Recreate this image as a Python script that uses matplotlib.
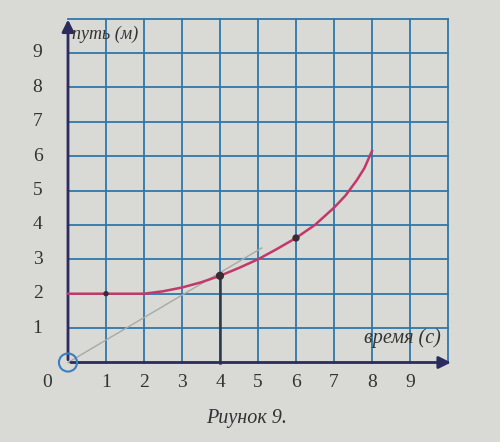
import matplotlib.pyplot as plt
import numpy as np

# Данные графика
t = [0, 1, 2, 2.5, 3, 3.5, 4, 4.5, 5, 5.5, 6, 6.5, 7, 7.3, 7.6, 7.8, 8.0]
s = [2.0, 2.0, 2.0, 2.07, 2.18, 2.33, 2.52, 2.75, 3.0, 3.3, 3.62, 4.0, 4.5, 4.85, 5.3, 5.65, 6.15]

pts_t = [1, 4, 6]
pts_s = [2.0, 2.52, 3.62]

tang_t = [0, 5.1]
tang_s = [0, 3.33]

xticks = [1, 2, 3, 4, 5, 6, 7, 8, 9]
yticks = [1, 2, 3, 4, 5, 6, 7, 8, 9]

paper = '#d9d9d5'
grid_c = '#2f78a8'
axis_c = '#2b2b5e'
curve_c = '#c2386a'

plt.rcParams['font.family'] = ['Liberation Serif', 'DejaVu Serif']

fig = plt.figure(figsize=(5, 4.42), dpi=100)
fig.patch.set_facecolor(paper)
ax = fig.add_axes([0, 0, 1, 1])
ax.set_facecolor(paper)
ax.set_xlim(-68 / 38, (500 - 68) / 38)
ax.set_ylim((362.5 - 442) / 34.4, 362.5 / 34.4)
ax.axis('off')

# сетка
for gx in range(1, 11):
    ax.plot([gx, gx], [0, 10], color=grid_c, lw=1.3, zorder=1)
for gy in range(1, 11):
    ax.plot([0, 10], [gy, gy], color=grid_c, lw=1.3, zorder=1)

# оси со стрелками
ax.annotate('', xy=(10.15, 0), xytext=(0, 0),
            arrowprops=dict(arrowstyle='-|>', color=axis_c, lw=2, mutation_scale=18), zorder=3)
ax.annotate('', xy=(0, 10.05), xytext=(0, 0),
            arrowprops=dict(arrowstyle='-|>', color=axis_c, lw=2, mutation_scale=18), zorder=3)

# касательная и вертикаль
ax.plot(tang_t, tang_s, color='#a8aaa6', lw=1, zorder=2)
ax.plot([4, 4], [0, pts_s[1]], color='#2a3a48', lw=1.8, zorder=2)

# кривая
ax.plot(t, s, color=curve_c, lw=1.8, zorder=4)
ax.scatter(pts_t, pts_s, s=[8, 24, 18], color='#3a2a34', zorder=5)
ax.scatter([0], [0], s=170, facecolor='none', edgecolor='#3b7fc0', lw=1.5, zorder=5)

for v in xticks:
    ax.text(v, -0.57, str(v), ha='center', va='center', fontsize=14, color='#333333')
ax.text(-0.55, -0.57, '0', ha='center', va='center', fontsize=14, color='#333333')
for v in yticks:
    ax.text(-0.8, v, str(v), ha='center', va='center', fontsize=14, color='#333333')

ax.text(0.1, 9.55, 'путь (м)', ha='left', va='center', fontsize=13, style='italic', color='#333333')
ax.text(8.8, 0.7, 'время (с)', ha='center', va='center', fontsize=14.5, style='italic', color='#333333')
ax.text(4.7, -1.62, 'Риунок 9.', ha='center', va='center', fontsize=14.5, style='italic', color='#333333')

fig.savefig('out.png', dpi=100, facecolor=paper)
